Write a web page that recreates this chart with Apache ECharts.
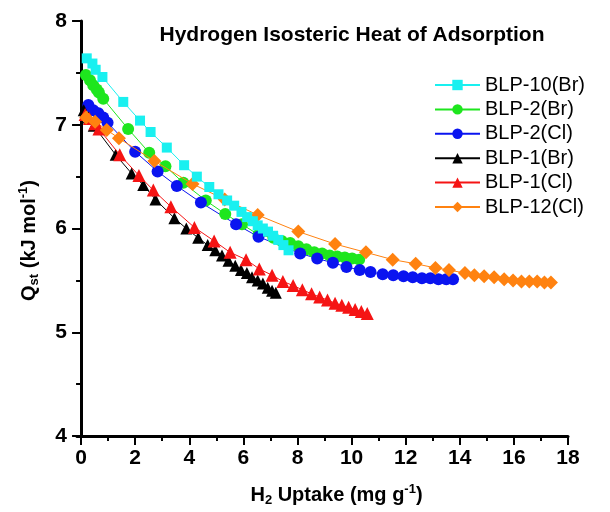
<!DOCTYPE html>
<html>
<head>
<meta charset="utf-8">
<script src="https://cdn.jsdelivr.net/npm/echarts@6/dist/echarts.min.js"></script>
<style>
  html, body { margin: 0; padding: 0; background: #fff; }
  #chart { width: 610px; height: 512px; }
</style>
</head>
<body>
<div id="chart"></div>
<script>
// H2 uptake (mg/g) vs isosteric heat (kJ/mol)
const blp10BrX = [0.21, 0.42, 0.54, 0.79, 1.56, 2.18, 2.57, 3.17, 3.81, 4.28, 4.74, 5.08, 5.40, 5.66, 5.93, 6.14, 6.35, 6.53, 6.72, 6.91, 7.10, 7.29, 7.48, 7.67]
const blp10BrY = [7.64, 7.59, 7.53, 7.46, 7.22, 7.04, 6.93, 6.78, 6.61, 6.50, 6.40, 6.33, 6.27, 6.22, 6.16, 6.11, 6.07, 6.03, 6.00, 5.97, 5.93, 5.89, 5.84, 5.79]

const blp2BrX = [0.18, 0.33, 0.45, 0.58, 0.66, 0.82, 1.74, 2.52, 3.12, 3.78, 4.61, 5.33, 5.95, 6.56, 7.11, 7.42, 7.73, 8.03, 8.33, 8.62, 8.91, 9.19, 9.47, 9.75, 10.02, 10.28]
const blp2BrY = [7.48, 7.43, 7.38, 7.34, 7.31, 7.25, 6.96, 6.73, 6.60, 6.44, 6.27, 6.14, 6.04, 5.94, 5.91, 5.88, 5.86, 5.83, 5.80, 5.77, 5.76, 5.74, 5.73, 5.72, 5.71, 5.70]

const blp2ClX = [0.27, 0.45, 0.64, 0.82, 0.98, 2.00, 2.83, 3.54, 4.43, 5.73, 6.56, 8.10, 8.73, 9.31, 9.81, 10.30, 10.70, 11.15, 11.54, 11.92, 12.26, 12.60, 12.91, 13.21, 13.50, 13.75]
const blp2ClY = [7.19, 7.14, 7.11, 7.07, 7.02, 6.74, 6.55, 6.41, 6.25, 6.04, 5.92, 5.76, 5.71, 5.67, 5.63, 5.60, 5.58, 5.56, 5.55, 5.54, 5.53, 5.52, 5.52, 5.51, 5.51, 5.51]

const blp1BrX = [0.10, 0.28, 0.47, 1.28, 1.87, 2.30, 2.75, 3.45, 3.89, 4.33, 4.68, 4.96, 5.21, 5.45, 5.70, 5.91, 6.13, 6.32, 6.53, 6.72, 6.90, 7.06, 7.20]
const blp1BrY = [7.14, 7.07, 6.99, 6.71, 6.53, 6.42, 6.28, 6.10, 6.00, 5.91, 5.84, 5.79, 5.74, 5.69, 5.64, 5.60, 5.57, 5.53, 5.50, 5.47, 5.43, 5.40, 5.38]

const blp1ClX = [0.15, 0.31, 0.51, 0.66, 1.43, 2.14, 2.67, 3.32, 4.19, 4.92, 5.51, 6.10, 6.59, 7.06, 7.46, 7.84, 8.18, 8.52, 8.82, 9.11, 9.39, 9.64, 9.89, 10.13, 10.36, 10.58]
const blp1ClY = [7.10, 7.06, 7.01, 6.96, 6.71, 6.51, 6.37, 6.21, 6.01, 5.88, 5.77, 5.70, 5.61, 5.55, 5.49, 5.45, 5.41, 5.37, 5.34, 5.31, 5.28, 5.26, 5.24, 5.22, 5.20, 5.18]

const blp12ClX = [0.19, 0.52, 0.95, 1.40, 2.71, 4.12, 5.31, 6.53, 8.03, 9.39, 10.53, 11.52, 12.37, 13.10, 13.60, 14.19, 14.54, 14.90, 15.27, 15.64, 15.97, 16.28, 16.57, 16.86, 17.13, 17.37]
const blp12ClY = [7.07, 7.03, 6.95, 6.87, 6.65, 6.43, 6.28, 6.13, 5.97, 5.85, 5.77, 5.70, 5.66, 5.62, 5.60, 5.57, 5.55, 5.54, 5.53, 5.51, 5.50, 5.49, 5.49, 5.49, 5.48, 5.48]

const xMajorTicks = [0, 2, 4, 6, 8, 10, 12, 14, 16, 18]
const xMinorTicks = [1, 3, 5, 7, 9, 11, 13, 15, 17]

const font = 'Liberation Sans, Arial, sans-serif'

const zip = (xs, ys) => xs.map((x, i) => [x, ys[i]])

const makeSeries = (name, xs, ys, color, symbol, size, z) => ({
  name,
  type: 'line',
  data: zip(xs, ys),
  symbol,
  symbolSize: size,
  showSymbol: true,
  z: z || 2,
  itemStyle: { color },
  lineStyle: { color, width: 1 },
  emphasis: { disabled: true },
  animation: false
})

const nameRich = {
  a: { fontFamily: font, fontWeight: 'bold', fontSize: 20, color: '#000', lineHeight: 24 },
  s: { fontFamily: font, fontWeight: 'bold', fontSize: 13, color: '#000', verticalAlign: 'bottom', lineHeight: 13, padding: [10, 0, 0, 0] },
  p: { fontFamily: font, fontWeight: 'bold', fontSize: 13, color: '#000', verticalAlign: 'top', lineHeight: 13, padding: [0, 0, 9, 0] }
}

const chart = echarts.init(document.getElementById('chart'))

chart.setOption({
  animation: false,
  title: {
    text: 'Hydrogen Isosteric Heat of Adsorption',
    left: 347,
    top: 20,
    textAlign: 'center',
    textStyle: { fontFamily: font, fontWeight: 'bold', fontSize: 21, color: '#000' }
  },
  legend: {
    orient: 'vertical',
    left: 429,
    top: 70,
    itemWidth: 45,
    itemHeight: 13,
    itemGap: 4.4,
    textStyle: { fontFamily: font, fontSize: 20, color: '#000' },
    data: ['BLP-10(Br)', 'BLP-2(Br)', 'BLP-2(Cl)', 'BLP-1(Br)', 'BLP-1(Cl)', 'BLP-12(Cl)']
  },
  grid: { left: 77, right: 42, top: 21, bottom: 76 },
  xAxis: [
    {
      type: 'value',
      min: -0.15,
      max: 18,
      name: '{a|H}{s|2}{a| Uptake (mg g}{p|-1}{a|)}',
      nameLocation: 'middle',
      nameGap: 47,
      nameTextStyle: { rich: nameRich, padding: [0, 0, 0, 28] },
      splitLine: { show: false },
      axisLine: { show: true, onZero: false, lineStyle: { color: '#000', width: 3 } },
      axisTick: { show: true, customValues: xMajorTicks, length: 9, lineStyle: { color: '#000', width: 2 } },
      axisLabel: { customValues: xMajorTicks, margin: 12, fontFamily: font, fontWeight: 'bold', fontSize: 21, color: '#000' }
    },
    {
      type: 'value',
      min: -0.15,
      max: 18,
      position: 'bottom',
      gridIndex: 0,
      splitLine: { show: false },
      axisLine: { show: false },
      axisTick: { show: true, customValues: xMinorTicks, length: 5, lineStyle: { color: '#000', width: 2 } },
      axisLabel: { show: false }
    }
  ],
  yAxis: {
    type: 'value',
    min: 4,
    max: 8,
    interval: 1,
    name: '{a|Q}{s|st}{a| (kJ mol}{p|-1}{a|)}',
    nameLocation: 'middle',
    nameRotate: 90,
    nameGap: 36,
    nameTextStyle: { rich: nameRich, padding: [0, 24, 0, 0] },
    splitLine: { show: false },
    axisLine: { show: true, lineStyle: { color: '#000', width: 3 } },
    axisTick: { show: true, length: 9, lineStyle: { color: '#000', width: 2 } },
    minorTick: { show: true, splitNumber: 2, length: 5, lineStyle: { color: '#000', width: 2 } },
    axisLabel: { margin: 10, fontFamily: font, fontWeight: 'bold', fontSize: 21, color: '#000' }
  },
  series: [
    makeSeries('BLP-10(Br)', blp10BrX, blp10BrY, '#19f0f0', 'rect', 10, 4),
    makeSeries('BLP-2(Br)', blp2BrX, blp2BrY, '#1ee61e', 'circle', 12),
    makeSeries('BLP-2(Cl)', blp2ClX, blp2ClY, '#0a14f0', 'circle', 12),
    makeSeries('BLP-1(Br)', blp1BrX, blp1BrY, '#000000', 'triangle', 12),
    makeSeries('BLP-1(Cl)', blp1ClX, blp1ClY, '#f51414', 'triangle', 13, 3),
    makeSeries('BLP-12(Cl)', blp12ClX, blp12ClY, '#ff8210', 'diamond', 14, 3)
  ]
})
</script>
</body>
</html>
